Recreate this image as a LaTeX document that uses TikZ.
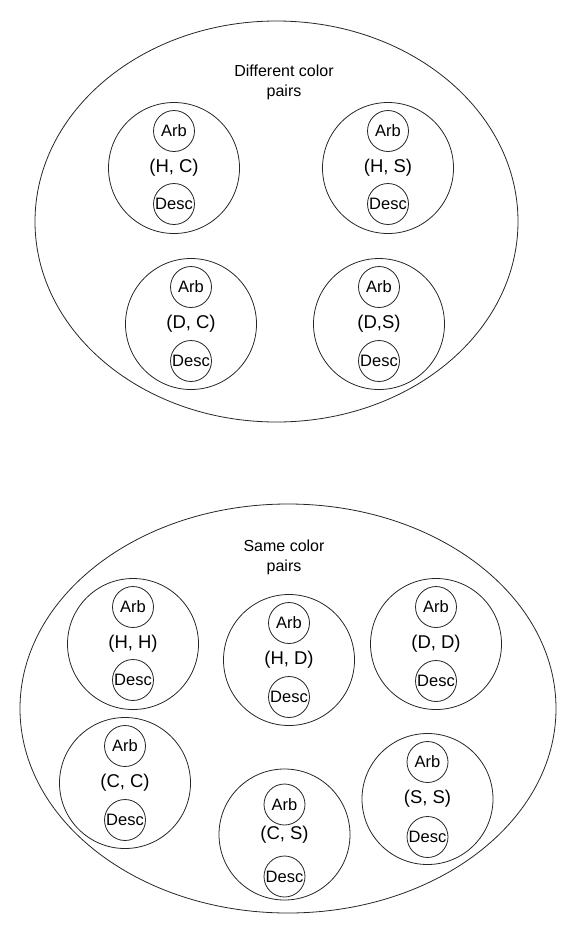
\documentclass[tikz,border=0pt]{standalone}
\usepackage{fontspec}
\setmainfont{Liberation Sans}
\usetikzlibrary{shapes.geometric, positioning}
\tikzset{
    pairset/.style={ellipse, draw, inner sep=0pt},
    paircircle/.style={circle, draw, minimum size=131pt, inner sep=0pt, font=\fontsize{18.5}{20}\selectfont},
    rolecircle/.style={circle, draw, minimum size=41pt, inner sep=0pt, font=\fontsize{16.5}{18}\selectfont},
    settitle/.style={align=center, font=\fontsize{16}{20}\selectfont}
}

\begin{document}
\begin{tikzpicture}[x=1pt, y=-1pt, line width=0.8pt, draw=black!85]
    \useasboundingbox (0,0) rectangle (578,935);
    % the two sets
    \node[pairset, minimum width=483pt, minimum height=401pt] (diffset) at (276.5,221.5) {};
    \node[settitle] (difftitle) at (284,82) {Different color\\pairs};
    \node[pairset, minimum width=536pt, minimum height=409pt] (sameset) at (288,708.5) {};
    \node[settitle] (sametitle) at (284,557) {Same color\\pairs};
    % pairs, each with its Arb and Desc
    \foreach \n/\x/\y/\a/\d/\t in {hc/174/168/37/36/{(H, C)}, hs/388/168/37/36/{(H, S)}, dc/191/324/37/37/{(D, C)}, ds/379/324/37/37/{(D,S)}, hh/133/644/37/36/{(H, H)}, hd/289/660/37/37/{(H, D)}, dd/436/644/37/37/{(D, D)}, cc/125/783/37/37/{(C, C)}, cs/284.5/834.5/30/42/{(C, S)}, ss/427.5/799/37/38/{(S, S)}}
    {
        \node[paircircle] (\n) at (\x,\y) {\t};
        \node[rolecircle] (\n-arb) at (\x,\y-\a) {Arb};
        \node[rolecircle] (\n-desc) at (\x,\y+\d) {Desc};
    }
\end{tikzpicture}
\end{document}
